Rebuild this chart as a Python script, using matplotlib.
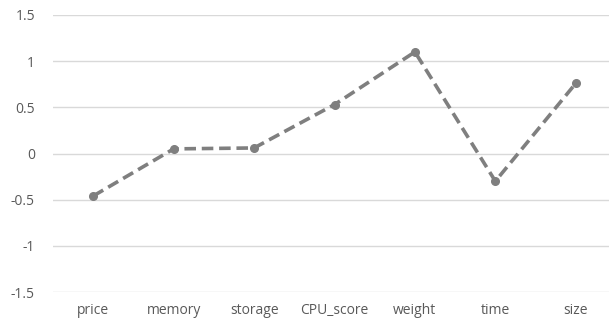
import matplotlib
matplotlib.use("Agg")
import matplotlib.pyplot as plt

categories = ["price", "memory", "storage", "CPU_score", "weight", "time", "size"]
values = [-0.46, 0.05, 0.06, 0.53, 1.10, -0.30, 0.76]
yticks = [-1.5, -1, -0.5, 0, 0.5, 1, 1.5]
ytick_labels = ["-1.5", "-1", "-0.5", "0", "0.5", "1", "1.5"]

fig = plt.figure(figsize=(6.09, 3.18), dpi=100)
ax = fig.add_axes([53/609, 1-292/318, 563/609, 277/318])
x = list(range(len(categories)))
ax.plot(x, values, linestyle=(0, (3.2, 1.6)), color="#7f7f7f", linewidth=2.6,
        marker="o", markersize=5.5, markerfacecolor="#7f7f7f", markeredgecolor="#7f7f7f",
        zorder=3)
ax.set_xlim(-0.5, len(categories) - 0.5)
ax.set_ylim(-1.5, 1.5)
ax.set_yticks(yticks)
ax.set_yticklabels(ytick_labels)
ax.set_xticks(x)
ax.set_xticklabels(categories)
ax.grid(axis="y", color="#d9d9d9", linewidth=1.0)
ax.set_axisbelow(True)
for s in ax.spines.values():
    s.set_visible(False)
ax.tick_params(axis="both", length=0, colors="#595959", labelsize=10)
ax.tick_params(axis="y", pad=13)
ax.tick_params(axis="x", pad=8)
for lab in ax.get_xticklabels() + ax.get_yticklabels():
    lab.set_fontfamily("Open Sans")
fig.savefig("out.png", dpi=100)
